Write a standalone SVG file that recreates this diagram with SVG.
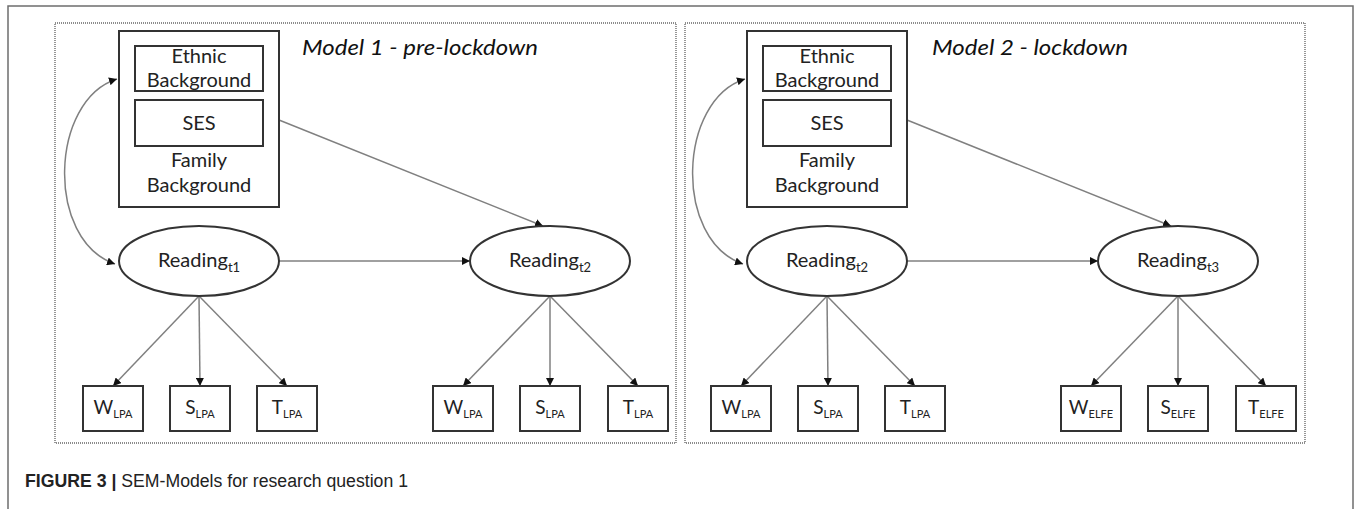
<svg xmlns="http://www.w3.org/2000/svg" width="1356" height="509" viewBox="0 0 1356 509">
<defs>
<marker id="ah" viewBox="0 0 10 10" refX="10" refY="5" markerWidth="8" markerHeight="8" markerUnits="userSpaceOnUse" orient="auto-start-reverse"><path d="M0,0 L10,5 L0,10 z" fill="#111"/></marker>
</defs>
<style>
.frame{fill:none;stroke:#6e6e6e;stroke-width:1.5}
.panel{fill:none;stroke:#8c8c8c;stroke-width:1.8;stroke-dasharray:1 1}
.box{fill:#fff;stroke:#333;stroke-width:2}
.ell{fill:#fff;stroke:#333;stroke-width:2}
.conn{fill:none;stroke:#808080;stroke-width:1.5}
.t{font-family:Lato,"Open Sans",sans-serif;font-size:20px;fill:#222;text-anchor:middle}
.sub{font-size:13px}
.ind{font-family:Lato,"Open Sans",sans-serif;font-size:19px;fill:#222;text-anchor:middle}
.isub{font-size:11px}
.title{font-family:Lato,"Open Sans",sans-serif;font-style:italic;font-size:21px;fill:#111}
.cap{font-family:"Liberation Sans Narrow","Liberation Sans",sans-serif;font-size:18px;fill:#222}
</style>
<g id="frame">
<path class="frame" d="M8,509 V6 H1353 V509"/>
<rect class="panel" x="55" y="23" width="621" height="420"/>
<rect class="panel" x="685" y="23" width="620" height="420"/>
<text class="title" x="302" y="55" textLength="236" lengthAdjust="spacingAndGlyphs">Model 1 - pre-lockdown</text>
<text class="title" x="932" y="55" textLength="196" lengthAdjust="spacingAndGlyphs">Model 2 - lockdown</text>
</g>
<g id="connectors">
<path class="conn" d="M117,79 C50,100 45,240 115,264" marker-start="url(#ah)" marker-end="url(#ah)"/>
<path class="conn" d="M279,120 L543,226" marker-end="url(#ah)"/>
<path class="conn" d="M279,261 L470,261" marker-end="url(#ah)"/>
<path class="conn" d="M199,296 L113,386" marker-end="url(#ah)"/>
<path class="conn" d="M199,296 L200,386" marker-end="url(#ah)"/>
<path class="conn" d="M199,296 L287,386" marker-end="url(#ah)"/>
<path class="conn" d="M550,296 L463,386" marker-end="url(#ah)"/>
<path class="conn" d="M550,296 L550,386" marker-end="url(#ah)"/>
<path class="conn" d="M550,296 L638,386" marker-end="url(#ah)"/>
<path class="conn" d="M745,79 C678,100 673,240 743,264" marker-start="url(#ah)" marker-end="url(#ah)"/>
<path class="conn" d="M907,120 L1171,226" marker-end="url(#ah)"/>
<path class="conn" d="M907,261 L1098,261" marker-end="url(#ah)"/>
<path class="conn" d="M827,296 L741,386" marker-end="url(#ah)"/>
<path class="conn" d="M827,296 L828,386" marker-end="url(#ah)"/>
<path class="conn" d="M827,296 L915,386" marker-end="url(#ah)"/>
<path class="conn" d="M1178,296 L1091,386" marker-end="url(#ah)"/>
<path class="conn" d="M1178,296 L1178,386" marker-end="url(#ah)"/>
<path class="conn" d="M1178,296 L1266,386" marker-end="url(#ah)"/>
</g>
<g id="family1">
<rect class="box" x="119" y="31" width="160" height="176"/>
<rect class="box" x="135" y="46" width="128" height="45"/>
<rect class="box" x="135" y="100" width="128" height="46"/>
<text class="t" x="199" y="63">Ethnic</text>
<text class="t" x="199" y="87">Background</text>
<text class="t" x="199" y="130">SES</text>
<text class="t" x="199" y="167">Family</text>
<text class="t" x="199" y="192">Background</text>
</g>
<g id="reading_t1_m1">
<ellipse class="ell" cx="199" cy="261" rx="80" ry="35"/>
<text class="t" x="199" y="267">Reading<tspan class="sub" dy="5">t1</tspan></text>
</g>
<g id="reading_t2_m1">
<ellipse class="ell" cx="550" cy="261" rx="80" ry="35"/>
<text class="t" x="550" y="267">Reading<tspan class="sub" dy="5">t2</tspan></text>
</g>
<g id="w1a"><rect class="box" x="83" y="386" width="60" height="45"/><text class="ind" x="113" y="414">W<tspan class="isub" dy="4">LPA</tspan></text></g>
<g id="s1a"><rect class="box" x="170" y="386" width="60" height="45"/><text class="ind" x="200" y="414">S<tspan class="isub" dy="4">LPA</tspan></text></g>
<g id="t1a"><rect class="box" x="257" y="386" width="60" height="45"/><text class="ind" x="287" y="414">T<tspan class="isub" dy="4">LPA</tspan></text></g>
<g id="w1b"><rect class="box" x="433" y="386" width="60" height="45"/><text class="ind" x="463" y="414">W<tspan class="isub" dy="4">LPA</tspan></text></g>
<g id="s1b"><rect class="box" x="520" y="386" width="60" height="45"/><text class="ind" x="550" y="414">S<tspan class="isub" dy="4">LPA</tspan></text></g>
<g id="t1b"><rect class="box" x="608" y="386" width="60" height="45"/><text class="ind" x="638" y="414">T<tspan class="isub" dy="4">LPA</tspan></text></g>
<g id="family2">
<rect class="box" x="747" y="31" width="160" height="176"/>
<rect class="box" x="763" y="46" width="128" height="45"/>
<rect class="box" x="763" y="100" width="128" height="46"/>
<text class="t" x="827" y="63">Ethnic</text>
<text class="t" x="827" y="87">Background</text>
<text class="t" x="827" y="130">SES</text>
<text class="t" x="827" y="167">Family</text>
<text class="t" x="827" y="192">Background</text>
</g>
<g id="reading_t2_m2">
<ellipse class="ell" cx="827" cy="261" rx="80" ry="35"/>
<text class="t" x="827" y="267">Reading<tspan class="sub" dy="5">t2</tspan></text>
</g>
<g id="reading_t3_m2">
<ellipse class="ell" cx="1178" cy="261" rx="80" ry="35"/>
<text class="t" x="1178" y="267">Reading<tspan class="sub" dy="5">t3</tspan></text>
</g>
<g id="w2a"><rect class="box" x="711" y="386" width="60" height="45"/><text class="ind" x="741" y="414">W<tspan class="isub" dy="4">LPA</tspan></text></g>
<g id="s2a"><rect class="box" x="798" y="386" width="60" height="45"/><text class="ind" x="828" y="414">S<tspan class="isub" dy="4">LPA</tspan></text></g>
<g id="t2a"><rect class="box" x="885" y="386" width="60" height="45"/><text class="ind" x="915" y="414">T<tspan class="isub" dy="4">LPA</tspan></text></g>
<g id="w2b"><rect class="box" x="1061" y="386" width="60" height="45"/><text class="ind" x="1091" y="414">W<tspan class="isub" dy="4">ELFE</tspan></text></g>
<g id="s2b"><rect class="box" x="1148" y="386" width="60" height="45"/><text class="ind" x="1178" y="414">S<tspan class="isub" dy="4">ELFE</tspan></text></g>
<g id="t2b"><rect class="box" x="1236" y="386" width="60" height="45"/><text class="ind" x="1266" y="414">T<tspan class="isub" dy="4">ELFE</tspan></text></g>
<g id="caption">
<text class="cap" x="25" y="487" textLength="383" lengthAdjust="spacingAndGlyphs"><tspan font-weight="bold">FIGURE 3 | </tspan>SEM-Models for research question 1</text>
</g>
</svg>
